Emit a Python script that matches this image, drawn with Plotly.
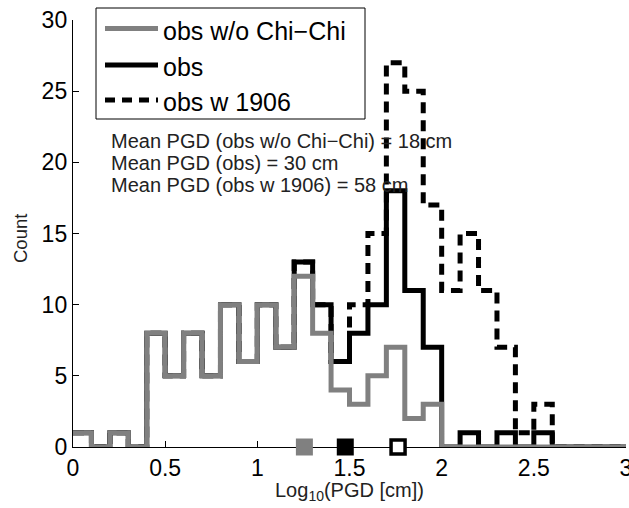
import math
import plotly.graph_objects as go

# ---- data ----
bin_edges = [0.0, 0.1, 0.2, 0.3, 0.4, 0.5, 0.6, 0.7, 0.8, 0.9, 1.0,
             1.1, 1.2, 1.3, 1.4, 1.5, 1.6, 1.7, 1.8, 1.9, 2.0,
             2.1, 2.2, 2.3, 2.4, 2.5, 2.6, 2.7, 2.8, 2.9, 3.0]
counts_no_chichi = [1, 0, 1, 0, 8, 5, 8, 5, 10, 6, 10, 7, 12, 8, 4,
                    3, 5, 7, 2, 3, 0, 0, 0, 0, 0, 0, 0, 0, 0, 0]
counts_obs = [1, 0, 1, 0, 8, 5, 8, 5, 10, 6, 10, 7, 13, 10, 6,
              8, 10, 18, 11, 7, 0, 1, 0, 1, 0, 1, 0, 0, 0, 0]
counts_w1906 = [1, 0, 1, 0, 8, 5, 8, 5, 10, 6, 10, 7, 13, 10, 6,
                10, 15, 27, 25, 17, 11, 15, 11, 7, 1, 3, 0, 0, 0, 0]
series_names = ["obs w/o Chi\u2212Chi", "obs", "obs w 1906"]
mean_pgd_cm = [18, 30, 58]
x_tick_vals = [0, 0.5, 1, 1.5, 2, 2.5, 3]
x_tick_text = ["0", "0.5", "1", "1.5", "2", "2.5", "3"]
y_tick_vals = [0, 5, 10, 15, 20, 25, 30]
y_tick_text = ["0", "5", "10", "15", "20", "25", "30"]

GRAY = "#808080"
FONT = "Liberation Sans, Arial, Helvetica, sans-serif"
DASH = "11px,7px"
LW = 5


def stair(counts):
    return counts + [counts[-1]]


fig = go.Figure()
# dashed first, then black, then gray on top
fig.add_trace(go.Scatter(x=bin_edges, y=stair(counts_w1906), mode="lines",
                         line=dict(color="black", width=LW, dash=DASH, shape="hv"),
                         name=series_names[2], hoverinfo="skip"))
fig.add_trace(go.Scatter(x=bin_edges, y=stair(counts_obs), mode="lines",
                         line=dict(color="black", width=LW, shape="hv"),
                         name=series_names[1], hoverinfo="skip"))
fig.add_trace(go.Scatter(x=bin_edges, y=stair(counts_no_chichi), mode="lines",
                         line=dict(color=GRAY, width=LW, shape="hv"),
                         name=series_names[0], hoverinfo="skip"))

# mean markers
fig.add_trace(go.Scatter(
    x=[math.log10(m) for m in mean_pgd_cm], y=[0, 0, 0], mode="markers",
    marker=dict(symbol="square", size=[17, 17, 14], opacity=1,
                color=[GRAY, "black", "white"],
                line=dict(color=[GRAY, "black", "black"], width=[0, 0, 3.5])),
    cliponaxis=False, showlegend=False, hoverinfo="skip"))

# plot-area geometry (pixels) used to place legend / text
L, R, T, B = 73, 3, 20, 61
W, H = 629, 508
PW, PH = W - L - R, H - T - B


def px(xp):
    return (xp - L) / PW


def py(yp):
    return (H - B - yp) / PH


shapes = []
annotations = []
# legend box
shapes.append(dict(type="rect", xref="paper", yref="paper",
                   x0=px(96), x1=px(365), y0=py(119), y1=py(8),
                   line=dict(color="black", width=1), fillcolor="white", layer="above"))
legend_rows = [(28.5, dict(color=GRAY, width=LW)),
               (65, dict(color="black", width=LW)),
               (100, dict(color="black", width=LW, dash="10px,7px"))]
for (yy, ln), name in zip(legend_rows, series_names):
    shapes.append(dict(type="line", xref="paper", yref="paper",
                       x0=px(105), x1=px(158), y0=py(yy), y1=py(yy), line=ln, layer="above"))
    annotations.append(dict(xref="paper", yref="paper", x=px(161), y=py(yy + 2),
                            xanchor="left", yanchor="middle", showarrow=False,
                            text=name, font=dict(family=FONT, size=25, color="black")))

mean_lines = [
    f"Mean PGD ({series_names[0]}) = {mean_pgd_cm[0]} cm",
    f"Mean PGD ({series_names[1]}) = {mean_pgd_cm[1]} cm",
    f"Mean PGD ({series_names[2]}) = {mean_pgd_cm[2]} cm",
]
for yy, txt in zip([140.5, 162.5, 184.5], mean_lines):
    annotations.append(dict(xref="paper", yref="paper", x=px(109), y=py(yy),
                            xanchor="left", yanchor="middle", showarrow=False,
                            text=txt, font=dict(family=FONT, size=20, color="#222222")))

# axis titles
annotations.append(dict(xref="paper", yref="paper", x=px(20), y=py(239),
                        xanchor="center", yanchor="middle", showarrow=False, textangle=-90,
                        text="Count", font=dict(family=FONT, size=18.5, color="#222222")))
annotations.append(dict(xref="paper", yref="paper", x=0.5, y=py(492),
                        xanchor="center", yanchor="middle", showarrow=False,
                        text="Log<sub>10</sub>(PGD [cm])",
                        font=dict(family=FONT, size=20, color="#222222")))

fig.update_layout(
    width=W, height=H,
    margin=dict(l=L, r=R, t=T, b=B, pad=0),
    paper_bgcolor="white", plot_bgcolor="white",
    showlegend=False,
    shapes=shapes, annotations=annotations,
    xaxis=dict(range=[0, 3], tickvals=x_tick_vals, ticktext=x_tick_text,
               ticks="inside", ticklen=6, tickwidth=1, tickcolor="black",
               showline=True, linecolor="black", linewidth=1.2, mirror=False,
               showgrid=False, zeroline=False, automargin=False, layer="below traces",
               ticklabeloverflow="allow",
               tickfont=dict(family=FONT, size=23, color="black")),
    yaxis=dict(range=[0, 30], tickvals=y_tick_vals, ticktext=y_tick_text,
               ticks="inside", ticklen=6, tickwidth=1, tickcolor="black",
               showline=True, linecolor="black", linewidth=1.2, mirror=False,
               showgrid=False, zeroline=False, automargin=False, layer="below traces",
               ticklabeloverflow="allow",
               tickfont=dict(family=FONT, size=23, color="black")),
)

fig.write_html("out.html",
               config={"displayModeBar": False, "staticPlot": True},
               post_script="document.body.style.margin='0px';document.body.style.padding='0px';")
